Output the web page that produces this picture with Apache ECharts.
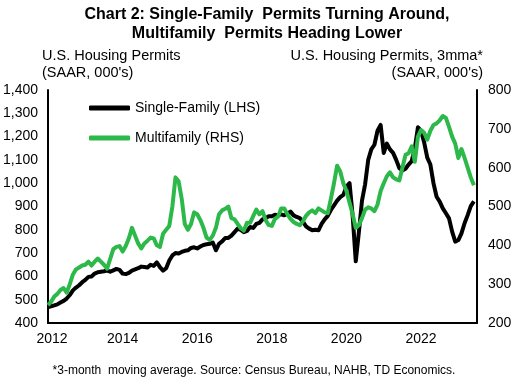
<!DOCTYPE html>
<html>
<head>
<meta charset="utf-8">
<script src="https://cdn.jsdelivr.net/npm/echarts@6/dist/echarts.min.js"></script>
<style>
html,body{margin:0;padding:0;background:#fff;}
#chart{width:515px;height:385px;}
</style>
</head>
<body>
<div id="chart"></div>
<script>
// Monthly categories Jan 2012 – Jun 2023
var startYear = 2012;
var monthCount = 138;
var months = [];
for (var k = 0; k < monthCount; k++) {
  var yy = startYear + Math.floor(k / 12);
  var mm = (k % 12) + 1;
  months.push(yy + '-' + (mm < 10 ? '0' + mm : mm));
}

// Single-family permits (SAAR, 000's) – left axis
var singleFamily = [
  468, 472, 476, 480, 488, 495, 505, 520, 540, 552, 562, 575,
  585, 598, 600, 612, 618, 620, 622, 625, 620, 626, 632, 628,
  612, 610, 615, 625, 630, 635, 642, 640, 638, 650, 645, 660,
  640, 625, 635, 668, 690, 700, 698, 705, 710, 712, 722, 725,
  720, 728, 735, 738, 740, 745, 712, 740, 750, 765, 765, 775,
  790, 805, 800, 790, 795, 812, 808, 825, 830, 845, 850, 858,
  858, 865, 862, 866, 862, 870, 878, 862, 855, 850, 835, 815,
  805, 798, 800, 798, 825, 845, 860, 885, 905, 925, 940, 950,
  985, 1000, 860, 665, 790, 925, 995, 1100, 1145, 1165, 1225, 1250,
  1130, 1170, 1145, 1130, 1100, 1065, 1055, 1062, 1080, 1095, 1150, 1240,
  1225, 1175, 1110, 1080, 1000, 942, 921, 892, 871, 849, 792, 749,
  756, 785, 828, 863, 902, 922
];

// Multifamily permits, 3mma (SAAR, 000's) – right axis
var multiFamily = [
  246, 255, 268, 275, 285, 290, 278, 300, 325, 338, 343, 348,
  350, 358, 348, 358, 366, 358, 350, 340, 365, 390, 396, 398,
  384, 398, 418, 445, 425, 405, 392, 405, 412, 420, 418, 400,
  396, 430, 440, 450, 500, 575, 565, 520, 455, 440, 455, 485,
  480, 465, 445, 420, 414, 425, 445, 480, 490, 494, 500, 470,
  467, 455, 444, 438, 458, 458, 475, 492, 480, 488, 465, 452,
  450, 468, 474, 495, 495, 480, 468, 460, 455, 452, 462, 476,
  485, 490, 483, 495, 490, 485, 483, 520, 560, 605, 590, 560,
  540, 510, 480, 445, 452, 470, 492, 498, 495, 488, 505, 540,
  560, 578, 588, 575, 570, 567, 600, 633, 637, 655, 615, 680,
  697, 690, 672, 695, 710, 714, 722, 733, 728, 705, 680, 662,
  625, 648, 625, 600, 575, 555
];

var xTickLabels = ['2012', '2014', '2016', '2018', '2020', '2022'];
var leftTicks = [400, 500, 600, 700, 800, 900, 1000, 1100, 1200, 1300, 1400];
var rightTicks = [200, 300, 400, 500, 600, 700, 800];

var seriesNames = ['Single-Family (LHS)', 'Multifamily (RHS)'];

function toYear(m) {
  var p = m.split('-');
  return Number(p[0]) + (Number(p[1]) - 1) / 12;
}
var sfData = months.map(function (m, i) { return [toYear(m), singleFamily[i]]; });
var mfData = months.map(function (m, i) { return [toYear(m), multiFamily[i]]; });

var FONT = '"Liberation Sans", Arial, sans-serif';
var GREEN = '#2db84a';
var chart = echarts.init(document.getElementById('chart'), null, {renderer: 'canvas'});
chart.setOption({
  animation: false,
  backgroundColor: '#fff',
  textStyle: {fontFamily: FONT, color: '#000'},
  graphic: [
    {type: 'text', x: 267, y: 15, style: {text: 'Chart 2: Single-Family  Permits Turning Around,', font: 'bold 16px ' + FONT, fill: '#000', textAlign: 'center', textVerticalAlign: 'middle'}},
    {type: 'text', x: 267, y: 34, style: {text: 'Multifamily  Permits Heading Lower', font: 'bold 16px ' + FONT, fill: '#000', textAlign: 'center', textVerticalAlign: 'middle'}},
    {type: 'text', x: 42, y: 56, style: {text: 'U.S. Housing Permits', font: '14.5px ' + FONT, fill: '#000', textAlign: 'left', textVerticalAlign: 'middle'}},
    {type: 'text', x: 42, y: 73, style: {text: "(SAAR, 000's)", font: '14.5px ' + FONT, fill: '#000', textAlign: 'left', textVerticalAlign: 'middle'}},
    {type: 'text', x: 483, y: 56, style: {text: 'U.S. Housing Permits, 3mma*', font: '14.5px ' + FONT, fill: '#000', textAlign: 'right', textVerticalAlign: 'middle'}},
    {type: 'text', x: 483, y: 73, style: {text: "(SAAR, 000's)", font: '14.5px ' + FONT, fill: '#000', textAlign: 'right', textVerticalAlign: 'middle'}},
    {type: 'text', x: 254, y: 371, style: {text: '*3-month  moving average. Source: Census Bureau, NAHB, TD Economics.', font: '12px ' + FONT, fill: '#000', textAlign: 'center', textVerticalAlign: 'middle'}}
  ],
  legend: {
    data: [
      {name: seriesNames[0], icon: 'roundRect', itemStyle: {color: '#000'}},
      {name: seriesNames[1], icon: 'roundRect', itemStyle: {color: GREEN}}
    ],
    orient: 'vertical',
    left: 84,
    top: 95,
    itemWidth: 41,
    itemHeight: 5,
    itemGap: 14,
    textStyle: {fontFamily: FONT, fontSize: 14, color: '#000', lineHeight: 16}
  },
  grid: {left: 48, right: 38, top: 90, bottom: 62, containLabel: false},
  xAxis: {
    type: 'value',
    min: 2012,
    max: 2023.5,
    interval: 2,
    axisLine: {show: true, lineStyle: {color: '#000', width: 2}},
    axisTick: {show: false},
    splitLine: {show: false},
    axisLabel: {
      margin: 9,
      fontSize: 14,
      color: '#000',
      fontFamily: FONT,
      formatter: function (v) {
        var s = String(Math.round(v));
        if (xTickLabels.indexOf(s) < 0) return '';
        return s === xTickLabels[0] ? '{first|' + s + '}' : s;
      },
      rich: {first: {fontSize: 14, fontFamily: FONT, color: '#000', padding: [0, 0, 0, 8]}}
    }
  },
  yAxis: [
    {
      type: 'value', position: 'left',
      min: leftTicks[0], max: leftTicks[leftTicks.length - 1], interval: 100,
      axisLine: {show: true, lineStyle: {color: '#000', width: 2}},
      axisTick: {show: false}, splitLine: {show: false},
      axisLabel: {margin: 10, fontSize: 14, color: '#000', fontFamily: FONT,
        formatter: function (v) { return v.toLocaleString('en-US'); }}
    },
    {
      type: 'value', position: 'right',
      min: rightTicks[0], max: rightTicks[rightTicks.length - 1], interval: 100,
      axisLine: {show: true, lineStyle: {color: '#000', width: 2}},
      axisTick: {show: false}, splitLine: {show: false},
      axisLabel: {margin: 11, fontSize: 14, color: '#000', fontFamily: FONT}
    }
  ],
  series: [
    {name: seriesNames[0], type: 'line', yAxisIndex: 0, data: sfData, symbol: 'none',
     lineStyle: {color: '#000', width: 4, join: 'round'}, itemStyle: {color: '#000'}},
    {name: seriesNames[1], type: 'line', yAxisIndex: 1, data: mfData, symbol: 'none',
     lineStyle: {color: GREEN, width: 4, join: 'round'}, itemStyle: {color: GREEN}}
  ]
});
</script>
</body>
</html>
